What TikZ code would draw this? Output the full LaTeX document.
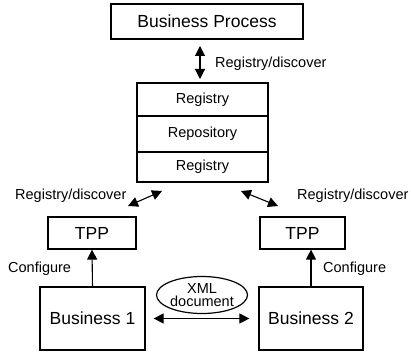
\documentclass[tikz,border=0pt]{standalone}
\usepackage{fontspec}
\setmainfont{Liberation Sans}
\usetikzlibrary{arrows.meta,shapes.geometric}
\begin{document}
\begin{tikzpicture}[x=1pt,y=-1pt,
 box/.style={draw,line width=1.2pt,inner sep=0pt,font=\fontsize{17.5}{20}\selectfont},
 sbox/.style={draw,line width=1.2pt,inner sep=0pt,minimum width=131pt,font=\fontsize{14.5}{16}\selectfont},
 lbl/.style={inner sep=0pt,font=\fontsize{14.5}{16}\selectfont},
 tip/.tip={Triangle[length=10pt,width=10pt]},
 dbl/.style={line width=1.1pt,tip-tip},
 sgl/.style={line width=1.1pt,-tip}]
\useasboundingbox (0,0) rectangle (411,352);
% boxes
\node[box,minimum width=192pt,minimum height=35pt] (bp) at (207,21.5) {Business Process};
\node[sbox,minimum height=33pt] (reg1) at (202.5,99.5) {Registry};
\node[sbox,minimum height=36pt] (repo) at (202.5,134) {Repository};
\node[sbox,minimum height=30pt] (reg2) at (202.5,167) {Registry};
\node[box,minimum width=88pt,minimum height=32pt] (tpp1) at (92,233) {TPP};
\node[box,minimum width=85pt,minimum height=32pt] (tpp2) at (302.5,233) {TPP};
\node[box,minimum width=105pt,minimum height=63pt] (b1) at (92.5,318.5) {Business 1};
\node[box,minimum width=104pt,minimum height=63pt] (b2) at (311,318.5) {Business 2};
\node[ellipse,draw,line width=1.2pt,inner sep=0pt,minimum width=91pt,minimum height=37pt,align=center,font=\fontsize{14.5}{13.5}\selectfont] (xml) at (202,295) {XML\\document};
% labels
\node[lbl,anchor=base west] (lt) at (215,68) {Registry/discover};
\node[lbl,anchor=base west] (ll) at (15,200) {Registry/discover};
\node[lbl,anchor=base west] (lr) at (297,200) {Registry/discover};
\node[lbl,anchor=base west] (cl) at (8,272.5) {Configure};
\node[lbl,anchor=base west] (cr) at (323,272.5) {Configure};
% arrow end points
\coordinate (va) at (200,46);
\coordinate (vb) at (200,79);
\coordinate (la) at (128,206);
\coordinate (lb) at (162,191);
\coordinate (ra) at (241,191);
\coordinate (rb) at (278,206);
% connectors
\draw[dbl] (va) -- (vb);
\draw[dbl] (la) -- (lb);
\draw[dbl] (ra) -- (rb);
\draw[sgl] (b1.north) -- (tpp1.south);
\draw[sgl] (b2.north) -- (b2.north |- tpp2.south);
\draw[dbl,shorten <=8pt,shorten >=9pt] (b1.east) -- (b2.west);
\end{tikzpicture}
\end{document}
